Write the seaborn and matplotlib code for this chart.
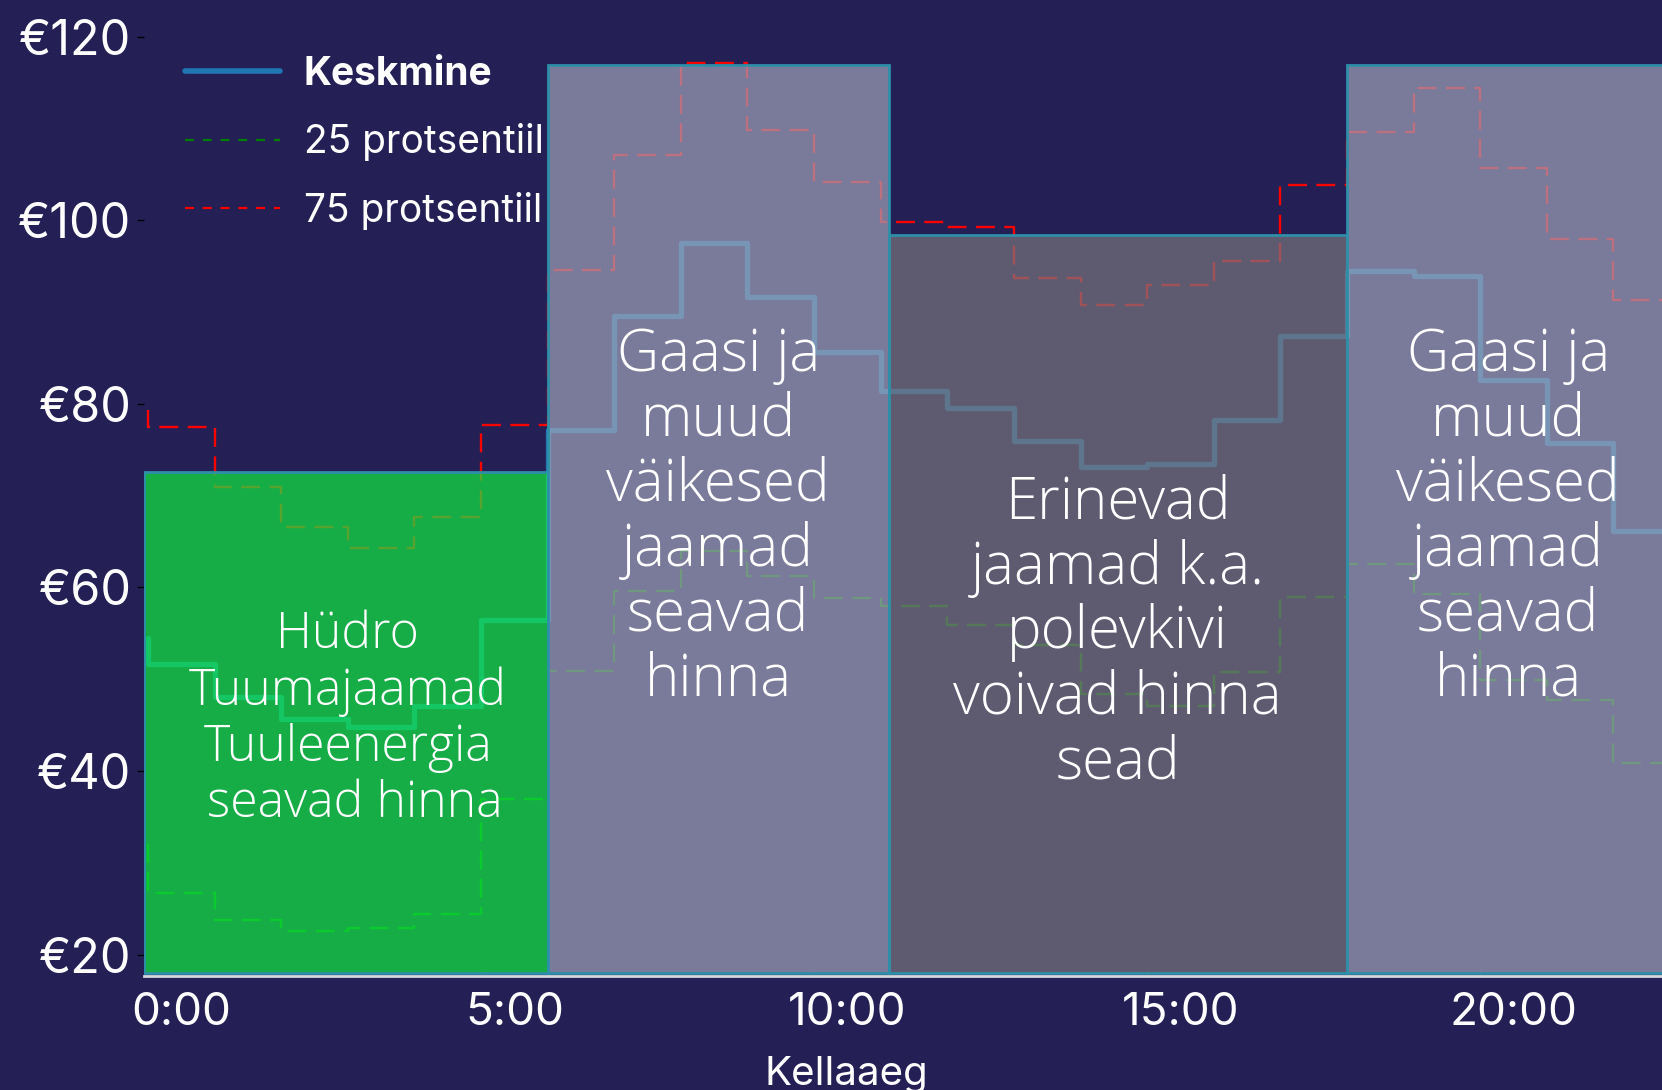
import matplotlib
matplotlib.use("Agg")
import matplotlib.pyplot as plt
from matplotlib.lines import Line2D
import seaborn as sns

# hourly price stats (EUR/MWh), drawn as steps
hours = list(range(24))
mean_price = [54.5, 51.7, 48.1, 45.7, 44.8, 47.1, 56.5, 77.1, 89.6, 97.5, 91.6, 85.7,
              81.4, 79.6, 75.9, 73.1, 73.5, 78.2, 87.4, 94.5, 93.9, 82.6, 75.7, 66.2]
p25 = [32.0, 26.7, 23.8, 22.6, 22.9, 24.4, 37.0, 50.9, 59.6, 64.0, 61.3, 58.9,
       58.0, 55.9, 53.7, 48.4, 47.1, 50.8, 59.0, 62.6, 59.3, 49.9, 47.7, 40.9]
p75 = [79.3, 77.5, 70.9, 66.6, 64.3, 67.7, 77.7, 94.6, 107.1, 117.1, 109.8, 104.2,
       99.8, 99.25, 93.7, 90.8, 93.0, 95.6, 103.8, 109.6, 114.4, 105.7, 98.0, 91.3]

# price-setting zones
zone_start = [-0.06, 6, 11.12, 18]
zone_end = [6, 11.12, 18, 24]
zone_top = [72.6, 116.9, 98.4, 116.9]
zone_bottom = 18
zone_colors = ["#11EA42", "#A0A2B8", "#78767E", "#A0A2B8"]
zone_texts = [
    "Hüdro\nTuumajaamad\nTuuleenergia\n seavad hinna",
    "Gaasi ja\nmuud\nväikesed\njaamad\nseavad\nhinna",
    "Erinevad\njaamad k.a.\npolevkivi\nvoivad hinna\nsead",
    "Gaasi ja\nmuud\nväikesed\njaamad\nseavad\nhinna",
]
text_x = [3.0, 8.56, 14.56, 20.42]
text_y = [45.6, 67.6, 55.05, 67.6]
text_size = [36, 42, 42, 42]

y_ticks = [20, 40, 60, 80, 100, 120]
x_ticks = [0, 5, 10, 15, 20]
x_labels = ["0:00", "5:00", "10:00", "15:00", "20:00"]

BG = "#241F55"

sns.set_theme(style="white")
plt.rcParams["font.family"] = ["Inter", "DejaVu Sans"]

fig = plt.figure(figsize=(16.62, 10.90), dpi=100)
fig.patch.set_facecolor(BG)
ax = fig.add_axes([144 / 1662, 1 - 975.7 / 1090, 1 - 144 / 1662, 975.7 / 1090])
ax.set_facecolor(BG)

sns.lineplot(x=hours, y=mean_price, ax=ax, color="#1f77b4", linewidth=3.8,
             drawstyle="steps-pre", zorder=2)
sns.lineplot(x=hours, y=p25, ax=ax, color="green", linewidth=1.7,
             drawstyle="steps-pre", linestyle=(0, (8, 4)), zorder=2)
sns.lineplot(x=hours, y=p75, ax=ax, color="red", linewidth=1.7,
             drawstyle="steps-pre", linestyle=(0, (8, 4)), zorder=2)

for x0, x1, top, col in zip(zone_start, zone_end, zone_top, zone_colors):
    rgba = matplotlib.colors.to_rgba(col, 0.7)
    ax.bar(x0, top - zone_bottom, width=x1 - x0, bottom=zone_bottom, align="edge",
           facecolor=rgba, edgecolor="#2E8FA8", linewidth=2, zorder=3)

for tx, ty, s, fs in zip(text_x, text_y, zone_texts, text_size):
    ax.text(tx, ty, s, ha="center", va="center", color="white", fontsize=fs,
            family=["Open Sans", "DejaVu Sans"], fontweight="light",
            linespacing=1.13 if fs > 38 else 1.16, zorder=5)

ax.set_xlim(-0.06, 22.73)
ax.set_ylim(17.7, 124.0)

ax.set_yticks(y_ticks)
ax.set_yticklabels([f"€{v}" for v in y_ticks])
ax.tick_params(axis="y", colors="black", labelcolor="white", labelsize=35,
               length=5, width=1, pad=4, left=True)

ax.set_xticks([h + 0.5 for h in x_ticks])
ax.set_xticklabels(x_labels)
ax.set_xticks(x_ticks, minor=True)
ax.tick_params(axis="x", which="major", length=0, labelcolor="white", labelsize=33, pad=12)
ax.tick_params(axis="x", which="minor", length=4, width=1, color="#333344",
               direction="in", bottom=True)

ax.set_xlabel("Kellaaeg", color="white", fontsize=29)
ax.xaxis.set_label_coords((846 - 144) / 1518, -0.082)

for side in ["top", "right", "left"]:
    ax.spines[side].set_visible(False)
ax.spines["bottom"].set_color("#D6D6DE")
ax.spines["bottom"].set_linewidth(2)

handles = [
    Line2D([], [], color="#1f77b4", linewidth=4),
    Line2D([], [], color="green", linewidth=1.6, linestyle=(0, (4, 4))),
    Line2D([], [], color="red", linewidth=1.6, linestyle=(0, (4, 4))),
]
leg = ax.legend(handles, ["Keskmine", "25 protsentiil", "75 protsentiil"],
                loc="upper left", bbox_to_anchor=(185 / 1662, 1 - 56 / 1090),
                bbox_transform=fig.transFigure, frameon=False, fontsize=28,
                handlelength=2.44, handletextpad=0.62, labelspacing=0.78,
                borderpad=0, borderaxespad=0)
for t in leg.get_texts():
    t.set_color("white")
leg.get_texts()[0].set_fontweight("bold")
leg.set_zorder(6)

fig.savefig("out.png", dpi=100, facecolor=BG)
